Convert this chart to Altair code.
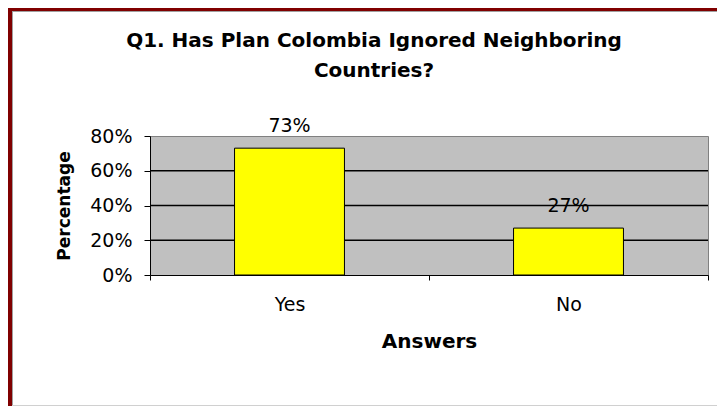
import altair as alt
import pandas as pd

# ---- data ----
answers = ["Yes", "No"]
percentages = [0.73, 0.27]
y_ticks = [0.0, 0.2, 0.4, 0.6, 0.8]
grid_values = [0.2, 0.4, 0.6]
title_lines = ["Q1. Has Plan Colombia Ignored Neighboring", "Countries?"]

FONT = "DejaVu Sans"

df = pd.DataFrame({"Answer": answers, "Pct": percentages})
grid_df = pd.DataFrame({"Pct": grid_values})
frame_df = pd.DataFrame({"k": [0]})

x_enc = alt.X(
    "Answer:N",
    sort=answers,
    title="Answers",
    scale=alt.Scale(paddingInner=0, paddingOuter=0),
    axis=alt.Axis(
        labelAngle=0,
        tickBand="extent",
        tickSize=5,
        labelPadding=15,
        labelFont=FONT,
        labelFontSize=19,
        labelColor="#000000",
        domainColor="#000000",
        tickColor="#000000",
        titleFont=FONT,
        titleFontSize=20,
        titleFontWeight="bold",
        titleColor="#000000",
        titleY=72,
        titleBaseline="alphabetic",
    ),
)

y_enc = alt.Y(
    "Pct:Q",
    title="Percentage",
    scale=alt.Scale(domain=[0, 0.8], nice=False),
    axis=alt.Axis(
        values=y_ticks,
        format=".0%",
        grid=False,
        labelOverlap=False,
        tickSize=6,
        labelPadding=12,
        labelFont=FONT,
        labelFontSize=19,
        labelColor="#000000",
        domainColor="#000000",
        tickColor="#000000",
        titleFont=FONT,
        titleFontSize=17,
        titleFontWeight="bold",
        titleColor="#000000",
        titleX=-81,
        titleY=69.5,
        titleBaseline="alphabetic",
    ),
)

grid = alt.Chart(grid_df).mark_rule(color="#000000", strokeWidth=1.3).encode(
    y=y_enc
)

bars = alt.Chart(df).mark_bar(
    color="#FFFF00", stroke="#000000", strokeWidth=1,
    width=alt.RelativeBandSize(0.394),
).encode(x=x_enc, y=y_enc)

labels = alt.Chart(df).mark_text(
    dy=-16, baseline="alphabetic", font=FONT, fontSize=19, color="#000000"
).encode(
    x=x_enc,
    y=y_enc,
    text=alt.Text("Pct:Q", format=".0%"),
)

# chart title (two lines)
title1 = alt.Chart(frame_df).mark_text(
    text=title_lines[0], font=FONT, fontSize=20, fontWeight="bold",
    color="#000000", align="center", baseline="alphabetic",
).encode(x=alt.value(224), y=alt.value(-89))
title2 = alt.Chart(frame_df).mark_text(
    text=title_lines[1], font=FONT, fontSize=20, fontWeight="bold",
    color="#000000", align="center", baseline="alphabetic",
).encode(x=alt.value(224), y=alt.value(-59))

# outer frame of the picture (dark red left/top edge, light lines)
left_red = alt.Chart(frame_df).mark_rule(color="#800000", strokeWidth=4).encode(
    x=alt.value(-140), y=alt.value(-128), y2=alt.value(270)
)
top_red = alt.Chart(frame_df).mark_rule(color="#800000", strokeWidth=3).encode(
    y=alt.value(-126.5), x=alt.value(-142), x2=alt.value(567)
)
left_gray = alt.Chart(frame_df).mark_rule(color="#A0A0A0", strokeWidth=1).encode(
    x=alt.value(-137.5), y=alt.value(-125), y2=alt.value(270)
)
top_gray = alt.Chart(frame_df).mark_rule(color="#A0A0A0", strokeWidth=1).encode(
    y=alt.value(-124.5), x=alt.value(-138), x2=alt.value(567)
)
bottom_gray = alt.Chart(frame_df).mark_rule(color="#D0D0D0", strokeWidth=1).encode(
    y=alt.value(269.5), x=alt.value(-138), x2=alt.value(567)
)

chart = (
    alt.layer(grid, bars, labels, title1, title2,
              left_red, top_red, left_gray, top_gray, bottom_gray)
    .properties(
        width=558,
        height=139,
        autosize=alt.AutoSizeParams(type="none"),
        padding={"left": 142, "top": 128, "right": 9, "bottom": 131},
        background="#FFFFFF",
    )
    .configure_view(fill="#C0C0C0", stroke="#808080", strokeWidth=1)
    .configure_axisY(labelOverlap=False)
)

chart.save("out.html", embed_options={"renderer": "svg", "actions": False})
